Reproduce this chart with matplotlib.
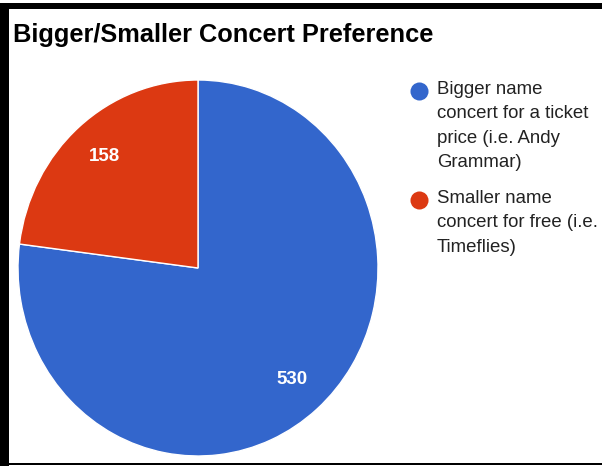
import matplotlib.pyplot as plt
from matplotlib.patches import Rectangle

plt.rcParams['font.family'] = ['Liberation Sans', 'DejaVu Sans']

# data
labels = ["Bigger name\nconcert for a ticket\nprice (i.e. Andy\nGrammar)",
          "Smaller name\nconcert for free (i.e.\nTimeflies)"]
values = [530, 158]
colors = ['#3366CC', '#DC3912']
title = "Bigger/Smaller Concert Preference"

W, H = 602, 466
fig = plt.figure(figsize=(W / 100, H / 100), dpi=100)

# pie area (slightly stretched vertically like the screenshot)
ax = fig.add_axes([18 / W, 10 / H, 360 / W, 376 / H])
wedges, texts, autotexts = ax.pie(values, colors=colors, startangle=90, counterclock=False,
                                  autopct=lambda p: '%d' % round(p * sum(values) / 100),
                                  pctdistance=0.79,
                                  wedgeprops={'edgecolor': 'white', 'linewidth': 1},
                                  textprops={'color': 'white', 'fontsize': 13.5, 'fontweight': 'bold'})
ax.set_aspect('auto')
ax.set_xlim(-1, 1)
ax.set_ylim(-1, 1)

# overlay axes in pixel coordinates for title, legend and frame
ov = fig.add_axes([0, 0, 1, 1], facecolor='none')
ov.set_xlim(0, W)
ov.set_ylim(H, 0)
ov.axis('off')

ov.text(13, 35, title, fontsize=18.3, fontweight='bold', color='black', va='center', ha='left')

legend_y = [91, 200]
for lab, col, y in zip(labels, colors, legend_y):
    ov.plot(419, y, 'o', color=col, markersize=13, markeredgewidth=0)
    ov.text(437, y - 10, lab, fontsize=13.4, color='#222222', va='top', ha='left', linespacing=1.56)

# black frame from the screenshot
ov.add_patch(Rectangle((0, 3), W, 6, color='black', lw=0))
ov.add_patch(Rectangle((0, 3), 9, H - 3, color='black', lw=0))
ov.add_patch(Rectangle((0, 463), W, 2, color='black', lw=0))

fig.savefig('out.png', dpi=100)
